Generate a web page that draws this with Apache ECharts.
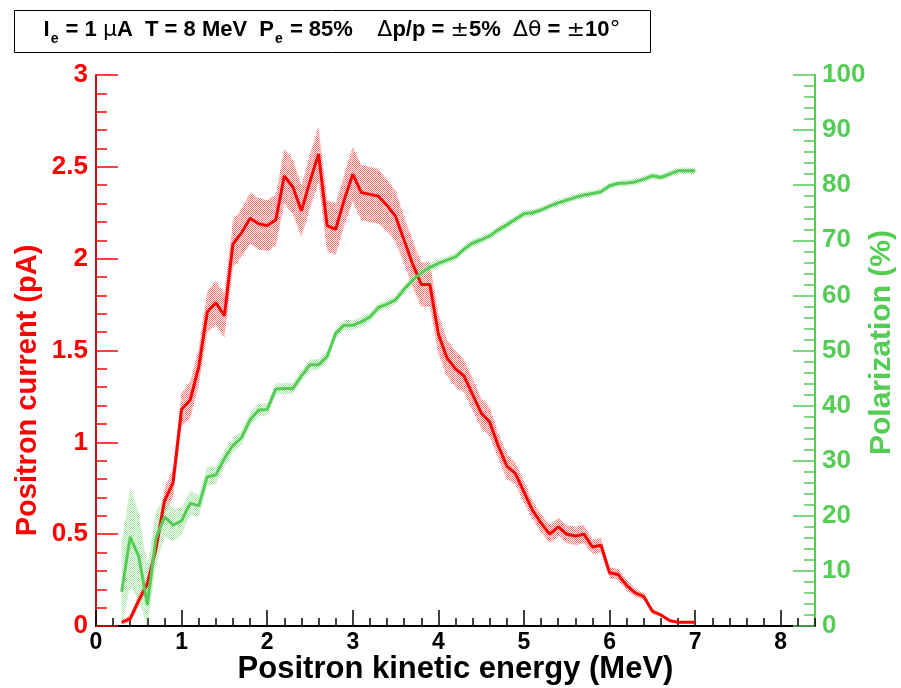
<!DOCTYPE html>
<html>
<head>
<meta charset="utf-8">
<script src="https://cdn.jsdelivr.net/npm/echarts@6/dist/echarts.min.js"></script>
<style>
  html, body { margin: 0; padding: 0; background: #fff; }
  #chart { width: 901px; height: 688px; }
</style>
</head>
<body>
<div id="chart"></div>
<script>
// energy bins (MeV)
var energy = [0.3, 0.4, 0.5, 0.6, 0.7, 0.8, 0.9, 1.0, 1.1, 1.2, 1.3, 1.4, 1.5, 1.6, 1.7, 1.8, 1.9, 2.0,
    2.1, 2.2, 2.3, 2.4, 2.5, 2.6, 2.7, 2.8, 2.9, 3.0, 3.1, 3.2, 3.3, 3.4, 3.5, 3.6, 3.7, 3.8, 3.9, 4.0,
    4.1, 4.2, 4.3, 4.4, 4.5, 4.6, 4.7, 4.8, 4.9, 5.0, 5.1, 5.2, 5.3, 5.4, 5.5, 5.6, 5.7, 5.8, 5.9, 6.0,
    6.1, 6.2, 6.3, 6.4, 6.5, 6.6, 6.7, 6.8, 6.9, 7.0];

// positron current (pA)
var current = [0.02, 0.04, 0.14, 0.23, 0.42, 0.68, 0.78, 1.18, 1.23, 1.41, 1.71, 1.76, 1.69, 2.08, 2.14, 2.22, 2.19, 2.18,
    2.21, 2.45, 2.39, 2.26, 2.42, 2.57, 2.18, 2.16, 2.32, 2.46, 2.36, 2.35, 2.34, 2.29, 2.23, 2.10, 1.97, 1.86, 1.86, 1.59,
    1.46, 1.40, 1.36, 1.26, 1.16, 1.11, 0.98, 0.87, 0.83, 0.73, 0.63, 0.56, 0.50, 0.54, 0.50, 0.49, 0.50, 0.43, 0.44, 0.29,
    0.28, 0.22, 0.18, 0.16, 0.08, 0.06, 0.03, 0.02, 0.02, 0.02];
var currentErr = [0.01, 0.02, 0.03, 0.04, 0.05, 0.07, 0.08, 0.09, 0.10, 0.10, 0.11, 0.12, 0.12, 0.13, 0.13, 0.14, 0.14, 0.14,
    0.14, 0.15, 0.15, 0.14, 0.15, 0.15, 0.14, 0.14, 0.14, 0.15, 0.15, 0.15, 0.15, 0.14, 0.14, 0.13, 0.13, 0.12, 0.12, 0.11,
    0.10, 0.10, 0.09, 0.09, 0.08, 0.08, 0.07, 0.07, 0.06, 0.06, 0.05, 0.05, 0.05, 0.05, 0.05, 0.05, 0.05, 0.04, 0.04, 0.03,
    0.03, 0.03, 0.02, 0.02, 0.015, 0.01, 0.01, 0.005, 0.005, 0.005];

// polarization (%)
var polar = [6.2, 16.2, 12.6, 3.8, 15.9, 19.8, 18.3, 19.1, 22.3, 21.8, 27.1, 27.4, 30.4, 32.8, 34.2, 37.4, 39.2, 39.3,
    43.0, 43.1, 43.1, 45.4, 47.4, 47.4, 48.9, 53.1, 54.6, 54.6, 55.2, 56.1, 57.8, 58.4, 59.2, 61.1, 62.8, 64.1, 65.1, 65.8,
    66.4, 67.0, 68.4, 69.5, 70.1, 70.8, 71.9, 72.8, 73.8, 74.8, 75.0, 75.5, 76.2, 76.8, 77.3, 77.8, 78.2, 78.5, 78.8, 79.9,
    80.3, 80.4, 80.6, 81.1, 81.7, 81.4, 82.0, 82.6, 82.6, 82.6];
var polarErr = [9, 9, 8, 7, 5, 3.5, 3, 2.5, 2.2, 2, 1.8, 1.6, 1.5, 1.4, 1.3, 1.2, 1.2, 1.1,
    1.0, 1.0, 1.0, 1.0, 1.0, 1.0, 1.0, 1.0, 1.0, 0.9, 0.9, 0.9, 0.8, 0.8, 0.8, 0.8, 0.8, 0.8, 0.8, 0.8,
    0.7, 0.7, 0.7, 0.7, 0.7, 0.7, 0.7, 0.7, 0.7, 0.7, 0.6, 0.6, 0.6, 0.6, 0.6, 0.6, 0.6, 0.6, 0.6, 0.6,
    0.6, 0.6, 0.6, 0.6, 0.6, 0.6, 0.6, 0.6, 0.6, 0.6];

var xTicks = [0, 1, 2, 3, 4, 5, 6, 7, 8];

var RED = '#ff0000';
var GREEN = '#55cc55';
var FONT = 'Liberation Sans, Arial, Helvetica, sans-serif';

// dotted fill like root's hatch style
function dots(col) {
    var c = document.createElement('canvas');
    c.width = 2;
    c.height = 2;
    var ctx = c.getContext('2d');
    ctx.fillStyle = col;
    ctx.fillRect(0, 0, 1, 1);
    ctx.fillRect(1, 1, 1, 1);
    return c;
}

function pairs(ys) {
    return energy.map(function (e, i) { return [e, ys[i]]; });
}

// error band as one polygon: low edge forward, high edge back
function band(yIndex, vals, errs, col) {
    var rows = energy.map(function (e, i) {
        return [e, Math.max(0, vals[i] - errs[i]), vals[i] + errs[i]];
    });
    var pattern = dots(col);
    return {
        type: 'custom',
        yAxisIndex: yIndex,
        silent: true,
        data: rows,
        encode: { x: 0, y: [1, 2] },
        renderItem: function (params, api) {
            if (params.dataIndex !== 0) return null;
            var pts = [];
            rows.forEach(function (r) { pts.push(api.coord([r[0], r[1]])); });
            for (var i = rows.length - 1; i >= 0; i--) {
                pts.push(api.coord([rows[i][0], rows[i][2]]));
            }
            return {
                type: 'polygon',
                shape: { points: pts },
                style: { fill: { image: pattern, repeat: 'repeat' } }
            };
        }
    };
}

var chart = echarts.init(document.getElementById('chart'));

var option = {
    animation: false,
    backgroundColor: '#fff',
    textStyle: { fontFamily: FONT },
    grid: { left: 96, right: 86, top: 75, bottom: 62, containLabel: false, outerBoundsMode: 'none' },
    graphic: [
        {
            type: 'rect',
            shape: { x: 14.5, y: 10.5, width: 636, height: 42 },
            style: { fill: '#fff', stroke: '#000', lineWidth: 1 }
        },
        {
            type: 'text',
            x: 332,
            y: 30,
            style: {
                text: '{n|I}{s|e}{n| = 1 }{g|μ}{n|A  T = 8 MeV  P}{s|e}{n| = 85%    }{g|Δ}{n|p/p = }{g|±}{n|5%  }{g|Δθ}{n| = }{g|±}{n|10}{g|°}',
                align: 'center',
                verticalAlign: 'middle',
                fontFamily: FONT,
                fill: '#000',
                rich: {
                    n: { fontSize: 22, fontWeight: 'bold', fontFamily: FONT, lineHeight: 26 },
                    g: { fontSize: 22, fontWeight: 'normal', fontFamily: 'DejaVu Sans, ' + FONT, lineHeight: 26 },
                    s: { fontSize: 14, fontWeight: 'bold', fontFamily: FONT, lineHeight: 15, padding: [19, 1, 0, 1] }
                }
            }
        }
    ],
    xAxis: [
        {
            type: 'value',
            min: 0,
            max: 8.4,
            interval: 1,
            position: 'bottom',
            name: 'Positron kinetic energy (MeV)',
            nameLocation: 'middle',
            nameGap: 28,
            nameMoveOverlap: false,
            nameTextStyle: { fontSize: 31, fontWeight: 'bold', color: '#000', fontFamily: FONT },
            axisLine: { onZero: false, lineStyle: { color: '#000', width: 2 } },
            axisTick: { inside: true, length: 16, customValues: xTicks, lineStyle: { color: '#000', width: 1.5 } },
            axisLabel: { customValues: xTicks, fontSize: 23, fontWeight: 'bold', color: '#000', margin: 5 },
            splitLine: { show: false }
        },
        {
            type: 'value',
            min: 0,
            max: 8.4,
            interval: 0.2,
            position: 'bottom',
            axisLine: { show: false, onZero: false },
            axisTick: { inside: true, length: 8, lineStyle: { color: '#000', width: 1.5 } },
            axisLabel: { show: false },
            splitLine: { show: false }
        }
    ],
    yAxis: [
        {
            type: 'value',
            min: 0,
            max: 3,
            interval: 0.5,
            position: 'left',
            name: 'Positron current (pA)',
            nameLocation: 'middle',
            nameGap: 54,
            nameMoveOverlap: false,
            nameTextStyle: { fontSize: 29, fontWeight: 'bold', color: RED, fontFamily: FONT, padding: [0, 80, 0, 0] },
            axisLine: { onZero: false, lineStyle: { color: '#c01818', width: 2 } },
            axisTick: { inside: true, length: 22, lineStyle: { color: RED, width: 1.5 } },
            minorTick: { show: true, splitNumber: 5, length: 11, lineStyle: { color: RED, width: 1.5 } },
            axisLabel: { fontSize: 26, fontWeight: 'bold', color: RED, margin: 8 },
            splitLine: { show: false }
        },
        {
            type: 'value',
            min: 0,
            max: 100,
            interval: 10,
            position: 'right',
            name: 'Polarization (%)',
            nameLocation: 'middle',
            nameGap: 52,
            nameMoveOverlap: false,
            nameTextStyle: { fontSize: 30, fontWeight: 'bold', color: GREEN, fontFamily: FONT, padding: [0, 0, 0, 16] },
            axisLine: { onZero: false, lineStyle: { color: GREEN, width: 2 } },
            axisTick: { inside: true, length: 22, lineStyle: { color: GREEN, width: 1.5 } },
            minorTick: { show: true, splitNumber: 5, length: 11, lineStyle: { color: GREEN, width: 1.5 } },
            axisLabel: { fontSize: 26, fontWeight: 'bold', color: GREEN, margin: 7 },
            splitLine: { show: false }
        }
    ],
    series: [
        band(0, current, currentErr, 'rgba(255,0,0,0.55)'),
        {
            name: 'Positron current',
            type: 'line',
            yAxisIndex: 0,
            data: pairs(current),
            showSymbol: false,
            lineStyle: { color: RED, width: 3 }
        },
        band(1, polar, polarErr, 'rgba(85,204,85,0.55)'),
        {
            name: 'Polarization',
            type: 'line',
            yAxisIndex: 1,
            data: pairs(polar),
            showSymbol: false,
            lineStyle: { color: GREEN, width: 3 }
        }
    ]
};

chart.setOption(option);
</script>
</body>
</html>
